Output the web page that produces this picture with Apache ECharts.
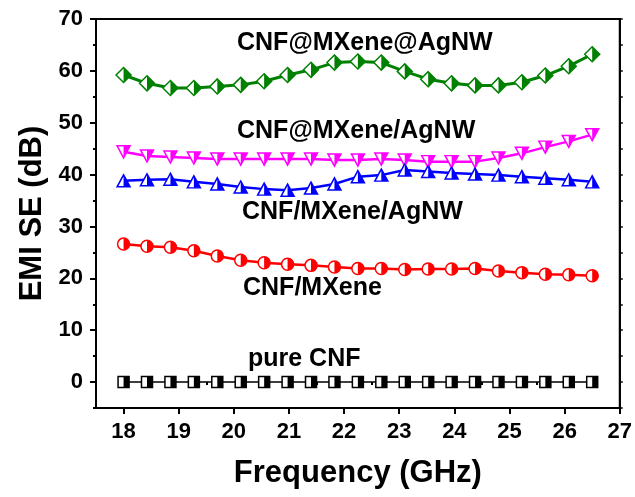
<!DOCTYPE html>
<html>
<head>
<meta charset="utf-8">
<script src="https://cdn.jsdelivr.net/npm/echarts@6/dist/echarts.min.js"></script>
<style>html,body{margin:0;padding:0;background:#fff;}#c{width:635px;height:497px;}</style>
</head>
<body>
<div id="c"></div>
<script>
const freq = [18, 18.425, 18.85, 19.275, 19.7, 20.125, 20.55, 20.975, 21.4, 21.825, 22.25, 22.675, 23.1, 23.525, 23.95, 24.375, 24.8, 25.225, 25.65, 26.075, 26.5];
const seAtAgNW = [59.2, 57.6, 56.7, 56.7, 57.0, 57.3, 58.0, 59.2, 60.2, 61.6, 61.8, 61.6, 59.9, 58.4, 57.6, 57.2, 57.2, 57.8, 59.1, 60.9, 63.2];
const seAtSlashAgNW = [44.4, 43.6, 43.4, 43.2, 43.0, 43.0, 43.0, 43.0, 43.0, 42.8, 42.8, 43.0, 42.8, 42.5, 42.5, 42.5, 43.2, 44.1, 45.3, 46.4, 47.7];
const seSlashAgNW = [38.8, 39.0, 39.1, 38.6, 38.2, 37.6, 37.2, 37.0, 37.4, 38.2, 39.6, 39.9, 40.9, 40.6, 40.3, 40.1, 39.9, 39.6, 39.3, 39.0, 38.6];
const seMXene = [26.6, 26.2, 26.0, 25.3, 24.3, 23.5, 23.0, 22.7, 22.5, 22.2, 21.9, 21.9, 21.7, 21.8, 21.8, 21.9, 21.4, 21.1, 20.8, 20.7, 20.5];
const sePure = [0, 0, 0, 0, 0, 0, 0, 0, 0, 0, 0, 0, 0, 0, 0, 0, 0, 0, 0, 0, 0];
const seriesNames = ['CNF@MXene@AgNW', 'CNF@MXene/AgNW', 'CNF/MXene/AgNW', 'CNF/MXene', 'pure CNF'];
const xMajorTicks = [18, 19, 20, 21, 22, 23, 24, 25, 26, 27];
const xMinorTicks = [17.5, 18.5, 19.5, 20.5, 21.5, 22.5, 23.5, 24.5, 25.5, 26.5];
const yMajorTicks = [0, 10, 20, 30, 40, 50, 60, 70];
const yMinorTicks = [-5, 5, 15, 25, 35, 45, 55, 65];
const yAllTicks = [-5, 0, 5, 10, 15, 20, 25, 30, 35, 40, 45, 50, 55, 60, 65, 70];

const pair = (arr) => freq.map((f, i) => [f, arr[i]]);
const F = '"Liberation Sans", Arial, sans-serif';

const defs = [
  {name: seriesNames[0], data: seAtAgNW, color: '#008000', sym: 'diamond', half: 'path://M0,0L10,10L0,20Z', w: 15, h: 15, lw: 3},
  {name: seriesNames[1], data: seAtSlashAgNW, color: '#ff00ff', sym: 'path://M0,0L20,0L10,20Z', half: 'path://M0,0L10,0L0,20Z', w: 13, h: 12, lw: 2.5},
  {name: seriesNames[2], data: seSlashAgNW, color: '#0000ff', sym: 'triangle', half: 'path://M0,0L10,20L0,20Z', w: 13, h: 12, lw: 2.5},
  {name: seriesNames[3], data: seMXene, color: '#ff0000', sym: 'circle', half: 'path://M0,0A10,10 0 0 1 0,20Z', w: 12, h: 12, lw: 2.5},
  {name: seriesNames[4], data: sePure, color: '#000000', sym: 'rect', half: 'path://M0,0L10,0L10,20L0,20Z', w: 11, h: 11, lw: 1.5}
];

const series = [];
defs.forEach(d => {
  series.push({
    name: d.name, type: 'line', data: pair(d.data), symbol: d.sym, symbolSize: [d.w, d.h],
    lineStyle: {color: d.color, width: d.lw},
    itemStyle: {color: '#fff', borderColor: d.color, borderWidth: 1.5},
    emphasis: {disabled: true}, animation: false, z: 3
  });
  series.push({
    name: d.name + ' fill', type: 'line', data: pair(d.data), symbol: d.half,
    symbolSize: [d.w / 2, d.h], symbolOffset: [d.w / 4, 0],
    lineStyle: {opacity: 0, width: 0},
    itemStyle: {color: d.color, borderWidth: 0},
    emphasis: {disabled: true}, animation: false, z: 4, silent: true
  });
});

const labelPos = [[237, 43], [237, 131], [242, 212], [243, 288], [248, 359]];
const graphic = seriesNames.map((n, i) => ({
  type: 'text', x: labelPos[i][0], y: labelPos[i][1],
  style: {text: n, font: 'bold 25px ' + F, fill: '#000', textVerticalAlign: 'middle', textAlign: 'left'}
}));

const chart = echarts.init(document.getElementById('c'), null, {renderer: 'canvas'});
chart.setOption({
  animation: false,
  backgroundColor: '#fff',
  grid: {left: 96, right: 14, top: 19, bottom: 89, show: true, borderColor: '#000', borderWidth: 2, backgroundColor: 'transparent'},
  xAxis: [
    {type: 'value', min: 17.5, max: 27, position: 'bottom',
     name: 'Frequency (GHz)', nameLocation: 'middle', nameGap: 50,
     nameTextStyle: {fontFamily: F, fontWeight: 'bold', fontSize: 31, color: '#000'},
     axisLine: {onZero: false, lineStyle: {color: '#000', width: 2}},
     axisTick: {show: true, customValues: xMajorTicks, length: 6, lineStyle: {color: '#000', width: 2}},
     axisLabel: {customValues: xMajorTicks, margin: 13, fontFamily: F, fontWeight: 'bold', fontSize: 22, color: '#000'},
     splitLine: {show: false}},
    {type: 'value', min: 17.5, max: 27, position: 'bottom', offset: 0,
     axisLine: {show: false},
     axisTick: {show: true, customValues: xMinorTicks, length: 3, lineStyle: {color: '#000', width: 2}},
     axisLabel: {show: false}, splitLine: {show: false}}
  ],
  yAxis: [
    {type: 'value', min: -5, max: 70, position: 'left',
     name: 'EMI SE (dB)', nameLocation: 'middle', nameGap: 43, nameRotate: 90,
     nameTextStyle: {fontFamily: F, fontWeight: 'bold', fontSize: 31, color: '#000'},
     axisLine: {onZero: false, lineStyle: {color: '#000', width: 2}},
     axisTick: {show: true, customValues: yMajorTicks, length: 6, lineStyle: {color: '#000', width: 2}},
     axisLabel: {customValues: yMajorTicks, margin: 13, fontFamily: F, fontWeight: 'bold', fontSize: 22, color: '#000'},
     splitLine: {show: false}},
    {type: 'value', min: -5, max: 70, position: 'left', offset: 0,
     axisLine: {show: false},
     axisTick: {show: true, customValues: yMinorTicks, length: 3, lineStyle: {color: '#000', width: 2}},
     axisLabel: {show: false}, splitLine: {show: false}},
    {type: 'value', min: -5, max: 70, position: 'right', offset: 0,
     axisLine: {show: true, onZero: false, lineStyle: {color: '#000', width: 2}},
     axisTick: {show: true, customValues: yAllTicks, length: 3, lineStyle: {color: '#000', width: 1.5}},
     axisLabel: {show: false}, splitLine: {show: false}}
  ],
  graphic: graphic,
  series: series
});
</script>
</body>
</html>
